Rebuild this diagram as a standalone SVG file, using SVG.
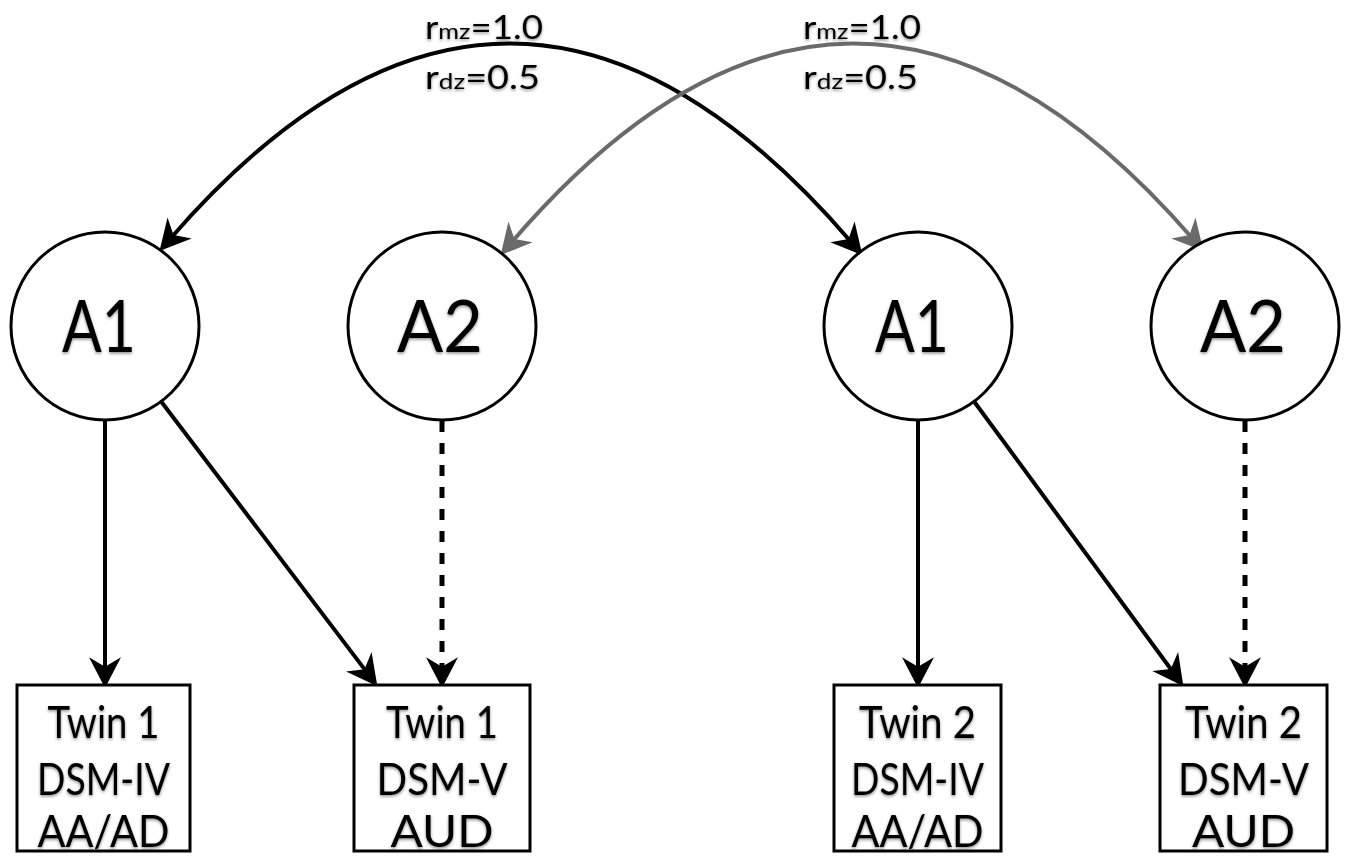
<svg xmlns="http://www.w3.org/2000/svg" width="1358" height="856" viewBox="0 0 1358 856">
  <defs>
    <filter id="sh" x="-10%" y="-10%" width="120%" height="130%">
      <feDropShadow dx="0" dy="1.5" stdDeviation="1.5" flood-color="#000" flood-opacity="0.45"/>
    </filter>
    <marker id="ah" markerUnits="userSpaceOnUse" markerWidth="40" markerHeight="40" viewBox="-15 -15 30 30" refX="0" refY="0" orient="auto-start-reverse">
      <path d="M12,0 L-11,-12 L-4,0 L-11,12 Z" fill="#000"/>
    </marker>
    <marker id="ahg" markerUnits="userSpaceOnUse" markerWidth="40" markerHeight="40" viewBox="-15 -15 30 30" refX="0" refY="0" orient="auto-start-reverse">
      <path d="M12,0 L-11,-12 L-4,0 L-11,12 Z" fill="#6a6a6a"/>
    </marker>
  </defs>
  <style>
    .node circle { fill: #fff; stroke: #000; stroke-width: 3; }
    .node rect { fill: #fff; stroke: #000; stroke-width: 3; }
    .lbl { font-family: Lato, "Liberation Sans", sans-serif; fill: #000; text-anchor: middle; filter: url(#sh); }
    .big { font-size: 72px; }
    .box { font-size: 45px; }
    .coef { font-family: Lato, "Liberation Sans", sans-serif; font-size: 32px; fill: #000; filter: url(#sh); }
    .sub { font-size: 22px; }
    .edge { fill: none; stroke: #000; stroke-width: 4; }
    .gray { stroke: #6a6a6a; }
    .dash { stroke-dasharray: 11 11; stroke-width: 5; }
  </style>
  <rect width="1358" height="856" fill="#fff"/>

  <g id="connectors">
    <path class="edge" d="M170,239 Q511,-154 852,243" marker-start="url(#ah)" marker-end="url(#ah)"/>
    <path class="edge gray" d="M511,243 Q852,-154 1193,239" marker-start="url(#ahg)" marker-end="url(#ahg)"/>
    <path class="edge" d="M105,421 L105,672" marker-end="url(#ah)"/>
    <path class="edge" d="M160,400 L367.7,673.4" marker-end="url(#ah)"/>
    <path class="edge dash" d="M442,421 L442,672" marker-end="url(#ah)"/>
    <path class="edge" d="M918,421 L918,672" marker-end="url(#ah)"/>
    <path class="edge" d="M973,400 L1173.9,673.3" marker-end="url(#ah)"/>
    <path class="edge dash" d="M1245,421 L1245,672" marker-end="url(#ah)"/>
  </g>

  <g id="coef-left">
    <text class="coef" x="425" y="39" textLength="118" lengthAdjust="spacingAndGlyphs">r<tspan class="sub">mz</tspan>=1.0</text>
    <text class="coef" x="425" y="89" textLength="115" lengthAdjust="spacingAndGlyphs">r<tspan class="sub">dz</tspan>=0.5</text>
  </g>
  <g id="coef-right">
    <text class="coef" x="803" y="39" textLength="118" lengthAdjust="spacingAndGlyphs">r<tspan class="sub">mz</tspan>=1.0</text>
    <text class="coef" x="803" y="89" textLength="115" lengthAdjust="spacingAndGlyphs">r<tspan class="sub">dz</tspan>=0.5</text>
  </g>

  <g id="t1-A1" class="node">
    <circle cx="105" cy="326" r="94"/>
    <text class="lbl big" x="99" y="352" textLength="74" lengthAdjust="spacingAndGlyphs">A1</text>
  </g>
  <g id="t1-A2" class="node">
    <circle cx="442" cy="326" r="94"/>
    <text class="lbl big" x="440" y="352" textLength="86" lengthAdjust="spacingAndGlyphs">A2</text>
  </g>
  <g id="t2-A1" class="node">
    <circle cx="918" cy="326" r="94"/>
    <text class="lbl big" x="912" y="352" textLength="74" lengthAdjust="spacingAndGlyphs">A1</text>
  </g>
  <g id="t2-A2" class="node">
    <circle cx="1245" cy="326" r="94"/>
    <text class="lbl big" x="1243" y="352" textLength="86" lengthAdjust="spacingAndGlyphs">A2</text>
  </g>

  <g id="t1-dsm4" class="node">
    <rect x="17" y="685" width="173" height="166"/>
    <text class="lbl box" x="103.5" y="738" textLength="112" lengthAdjust="spacingAndGlyphs">Twin 1</text>
    <text class="lbl box" x="103.5" y="795" textLength="133" lengthAdjust="spacingAndGlyphs">DSM-IV</text>
    <text class="lbl box" x="103.5" y="847" textLength="132" lengthAdjust="spacingAndGlyphs">AA/AD</text>
  </g>
  <g id="t1-dsm5" class="node">
    <rect x="354" y="685" width="176" height="166"/>
    <text class="lbl box" x="442" y="738" textLength="112" lengthAdjust="spacingAndGlyphs">Twin 1</text>
    <text class="lbl box" x="442" y="795" textLength="131" lengthAdjust="spacingAndGlyphs">DSM-V</text>
    <text class="lbl box" x="442" y="847" textLength="103" lengthAdjust="spacingAndGlyphs">AUD</text>
  </g>
  <g id="t2-dsm4" class="node">
    <rect x="834" y="685" width="167" height="166"/>
    <text class="lbl box" x="917.5" y="738" textLength="117" lengthAdjust="spacingAndGlyphs">Twin 2</text>
    <text class="lbl box" x="917.5" y="795" textLength="133" lengthAdjust="spacingAndGlyphs">DSM-IV</text>
    <text class="lbl box" x="917.5" y="847" textLength="132" lengthAdjust="spacingAndGlyphs">AA/AD</text>
  </g>
  <g id="t2-dsm5" class="node">
    <rect x="1160" y="685" width="167" height="166"/>
    <text class="lbl box" x="1243.5" y="738" textLength="117" lengthAdjust="spacingAndGlyphs">Twin 2</text>
    <text class="lbl box" x="1243.5" y="795" textLength="131" lengthAdjust="spacingAndGlyphs">DSM-V</text>
    <text class="lbl box" x="1243.5" y="847" textLength="103" lengthAdjust="spacingAndGlyphs">AUD</text>
  </g>
</svg>
